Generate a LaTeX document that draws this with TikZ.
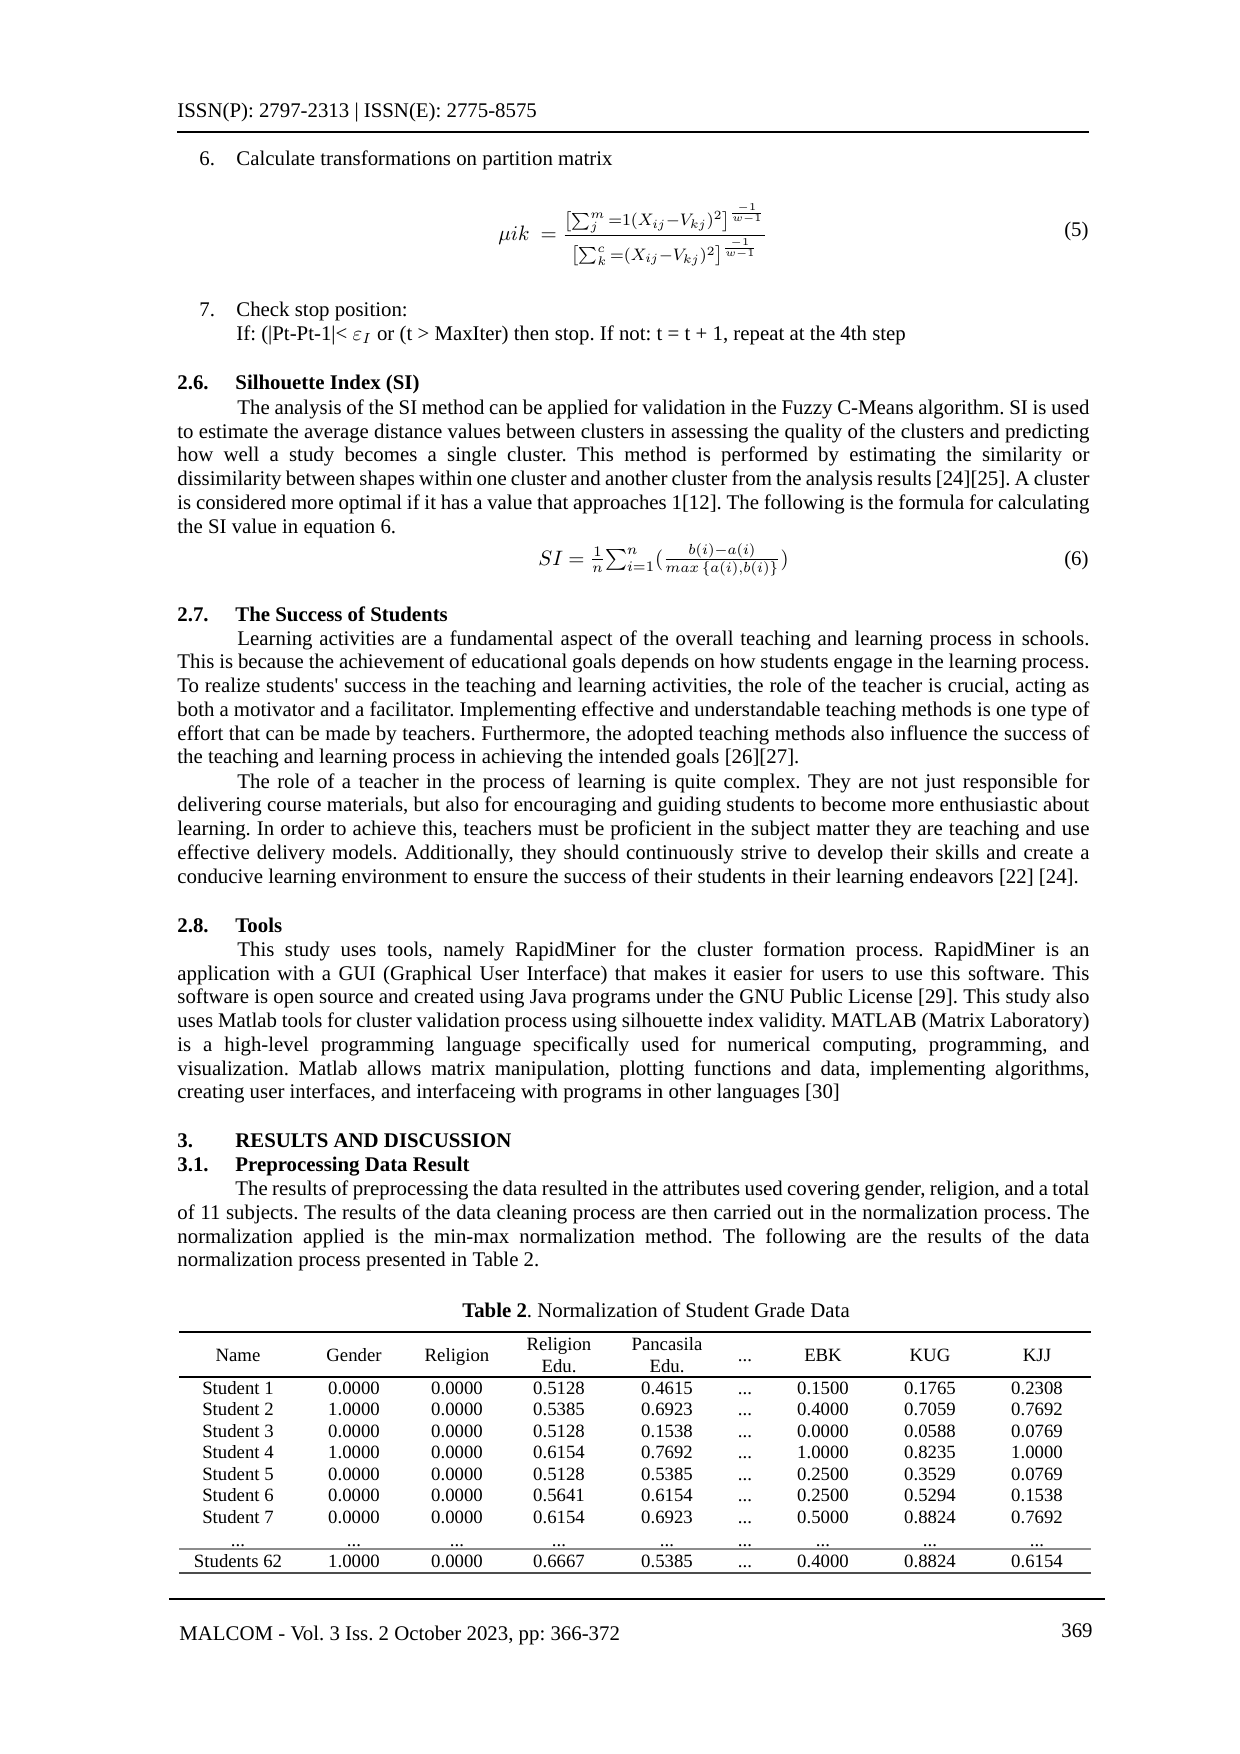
\documentclass[tikz,border=0pt]{standalone}
\usepackage{amsmath}
\usepackage{fontspec}
\setmainfont{Liberation Serif}
\frenchspacing
\tikzset{
  bodytext/.style={anchor=base west, inner sep=0pt, font=\fontsize{10}{11.3}\selectfont},
  headtext/.style={bodytext, font=\fontsize{10}{11.3}\selectfont\bfseries},
  cell/.style={anchor=base, inner sep=0pt, font=\fontsize{9}{10}\selectfont},
}
% a justified line runs from its start to the right margin at x=1089
\newcommand\justline[4]{\pgfmathsetlengthmacro\linew{(1089-#2)*0.48}\node[bodytext] (#1) at (#2,#3) {\makebox[\linew][s]{#4}};}
\newcommand\plainline[4]{\node[bodytext] (#1) at (#2,#3) {#4};}
\def\tdots{...}

\begin{document}
\begin{tikzpicture}[x=0.48pt,y=-0.48pt]
	%%%%% PAGE %%%%%
	\useasboundingbox[fill=white] (0,0) rectangle (1240,1754);
	
	\node[bodytext] (issn) at (177,117) {ISSN(P): 2797-2313 | ISSN(E): 2775-8575};
	\draw[line width=1.2pt] (177,132) -- (1089,132);
	
	\plainline{n6}{199}{165}{6.}
	\plainline{s6}{236}{165}{Calculate transformations on partition matrix}
	\node[bodytext] (eq5) at (498,240) {$\mu ik\ =\ $\mbox{\fontsize{8}{9}\selectfont$\dfrac{\bigl[\sum_{j}^{m}{=}1(X_{ij}{-}V_{kj})^{2}\bigr]^{\frac{-1}{w-1}}}{\bigl[\sum_{k}^{c}{=}(X_{ij}{-}V_{kj})^{2}\bigr]^{\frac{-1}{w-1}}}$}};
	\node[bodytext, anchor=base east] (no5) at (1089,236) {(5)};
	
	\plainline{n7}{199}{316}{7.}
	\plainline{s7}{236}{316}{Check stop position:}
	\plainline{if7}{236}{340}{If: (|Pt-Pt-1|< $\varepsilon_I$ or (t > MaxIter) then stop. If not: t = t + 1, repeat at the 4th step}
	
	%%%%% 2.6 %%%%%
	\node[headtext] (h26n) at (177,389) {2.6.};
	\node[headtext] (h26) at (235,389) {Silhouette Index (SI)};
	\justline{si1}{237}{414}{The analysis of the SI method can be applied for validation in the Fuzzy C-Means algorithm. SI is used}
	\justline{si2}{177}{438}{to estimate the average distance values between clusters in assessing the quality of the clusters and predicting}
	\justline{si3}{177}{461}{how well a study becomes a single cluster. This method is performed by estimating the similarity or}
	\justline{si4}{177}{485}{dissimilarity between shapes within one cluster and another cluster from the analysis results [24][25]. A cluster}
	\justline{si5}{177}{509}{is considered more optimal if it has a value that approaches 1[12]. The following is the formula for calculating}
	\plainline{si6}{177}{533}{the SI value in equation 6.}
	\node[bodytext] (eq6) at (538,565) {$SI\ {=}\ \tfrac{1}{n}{\sum}_{i=1}^{n}(\tfrac{b(i)-a(i)}{max\,\{a(i),b(i)\}})$};
	\node[bodytext, anchor=base east] (no6) at (1089,565) {(6)};
	
	%%%%% 2.7 %%%%%
	\node[headtext] (h27n) at (177,621) {2.7.};
	\node[headtext] (h27) at (235,621) {The Success of Students};
	\justline{sa1}{237}{645}{Learning activities are a fundamental aspect of the overall teaching and learning process in schools.}
	\justline{sa2}{177}{668}{This is because the achievement of educational goals depends on how students engage in the learning process.}
	\justline{sa3}{177}{692}{To realize students\textquotesingle{} success in the teaching and learning activities, the role of the teacher is crucial, acting as}
	\justline{sa4}{177}{716}{both a motivator and a facilitator. Implementing effective and understandable teaching methods is one type of}
	\justline{sa5}{177}{740}{effort that can be made by teachers. Furthermore, the adopted teaching methods also influence the success of}
	\plainline{sa6}{177}{763}{the teaching and learning process in achieving the intended goals [26][27].}
	\justline{sb1}{237}{788}{The role of a teacher in the process of learning is quite complex. They are not just responsible for}
	\justline{sb2}{177}{811}{delivering course materials, but also for encouraging and guiding students to become more enthusiastic about}
	\justline{sb3}{177}{835}{learning. In order to achieve this, teachers must be proficient in the subject matter they are teaching and use}
	\justline{sb4}{177}{859}{effective delivery models. Additionally, they should continuously strive to develop their skills and create a}
	\plainline{sb5}{177}{883}{conducive learning environment to ensure the success of their students in their learning endeavors [22] [24].}
	
	%%%%% 2.8 %%%%%
	\node[headtext] (h28n) at (177,932) {2.8.};
	\node[headtext] (h28) at (235,932) {Tools};
	\justline{to1}{237}{956}{This study uses tools, namely RapidMiner for the cluster formation process. RapidMiner is an}
	\justline{to2}{177}{980}{application with a GUI (Graphical User Interface) that makes it easier for users to use this software. This}
	\justline{to3}{177}{1003}{software is open source and created using Java programs under the GNU Public License [29]. This study also}
	\justline{to4}{177}{1027}{uses Matlab tools for cluster validation process using silhouette index validity. MATLAB (Matrix Laboratory)}
	\justline{to5}{177}{1051}{is a high-level programming language specifically used for numerical computing, programming, and}
	\justline{to6}{177}{1075}{visualization. Matlab allows matrix manipulation, plotting functions and data, implementing algorithms,}
	\plainline{to7}{177}{1098}{creating user interfaces, and interfaceing with programs in other languages [30]}
	
	%%%%% 3 %%%%%
	\node[headtext] (h3n) at (177,1147) {3.};
	\node[headtext] (h3) at (235,1147) {RESULTS AND DISCUSSION};
	\node[headtext] (h31n) at (177,1171) {3.1.};
	\node[headtext] (h31) at (235,1171) {Preprocessing Data Result};
	\justline{pr1}{235}{1195}{The results of preprocessing the data resulted in the attributes used covering gender, religion, and a total}
	\justline{pr2}{177}{1219}{of 11 subjects. The results of the data cleaning process are then carried out in the normalization process. The}
	\justline{pr3}{177}{1243}{normalization applied is the min-max normalization method. The following are the results of the data}
	\plainline{pr4}{177}{1266}{normalization process presented in Table 2.}
	
	%%%%% TABLE 2 %%%%%
	\node[bodytext, anchor=base] (cap2) at (656,1317) {\textbf{Table 2}. Normalization of Student Grade Data};
	\draw[line width=0.8pt] (179,1332) -- (1091,1332);
	\node[cell] (hname) at (238,1361) {Name};
	\node[cell] (hgend) at (354,1361) {Gender};
	\node[cell] (hrel) at (457,1361) {Religion};
	\node[cell] (hre1) at (559,1350) {Religion};
	\node[cell] (hre2) at (559,1372) {Edu.};
	\node[cell] (hpa1) at (667,1350) {Pancasila};
	\node[cell] (hpa2) at (667,1372) {Edu.};
	\node[cell] (hdots) at (745,1361) {\tdots};
	\node[cell] (hebk) at (823,1361) {EBK};
	\node[cell] (hkug) at (930,1361) {KUG};
	\node[cell] (hkjj) at (1037,1361) {KJJ};
	\draw[line width=0.6pt] (179,1377) -- (1091,1377);
	
	\foreach \y/\nm/\ge/\re/\rg/\pc/\eb/\ku/\kj [count=\i] in {
		1394/Student 1/0.0000/0.0000/0.5128/0.4615/0.1500/0.1765/0.2308,
		1415/Student 2/1.0000/0.0000/0.5385/0.6923/0.4000/0.7059/0.7692,
		1437/Student 3/0.0000/0.0000/0.5128/0.1538/0.0000/0.0588/0.0769,
		1458/Student 4/1.0000/0.0000/0.6154/0.7692/1.0000/0.8235/1.0000,
		1480/Student 5/0.0000/0.0000/0.5128/0.5385/0.2500/0.3529/0.0769,
		1501/Student 6/0.0000/0.0000/0.5641/0.6154/0.2500/0.5294/0.1538,
		1523/Student 7/0.0000/0.0000/0.6154/0.6923/0.5000/0.8824/0.7692,
		1546/\tdots/\tdots/\tdots/\tdots/\tdots/\tdots/\tdots/\tdots,
		1567/Students 62/1.0000/0.0000/0.6667/0.5385/0.4000/0.8824/0.6154}
	{
		\node[cell] (name\i) at (238,\y) {\nm};
		\node[cell] (gend\i) at (354,\y) {\ge};
		\node[cell] (rel\i) at (457,\y) {\re};
		\node[cell] (redu\i) at (559,\y) {\rg};
		\node[cell] (pedu\i) at (667,\y) {\pc};
		\node[cell] (dots\i) at (745,\y) {\tdots};
		\node[cell] (ebk\i) at (823,\y) {\eb};
		\node[cell] (kug\i) at (930,\y) {\ku};
		\node[cell] (kjj\i) at (1037,\y) {\kj};
	}
	\draw[line width=0.8pt, color=black!45] (179,1549) -- (1091,1549);
	\draw[line width=1.3pt, color=black!70] (179,1573) -- (1091,1573);
	
	%%%%% FOOTER %%%%%
	\draw[line width=0.8pt] (169,1599) -- (1105,1599);
	\node[bodytext] (foot) at (179,1640) {MALCOM - Vol. 3 Iss. 2 October 2023, pp: 366-372};
	\node[bodytext, anchor=base east] (page) at (1093,1637) {369};
	
\end{tikzpicture}
\end{document}
